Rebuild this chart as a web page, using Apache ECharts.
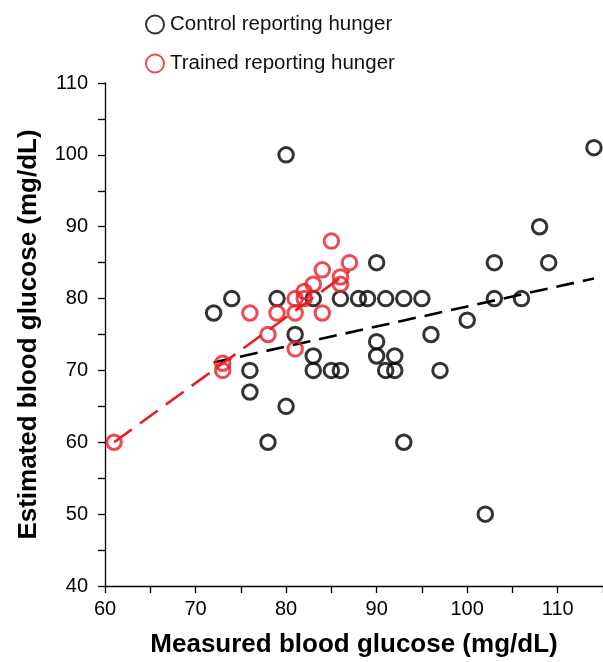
<!DOCTYPE html>
<html>
<head>
<meta charset="utf-8">
<script src="https://cdn.jsdelivr.net/npm/echarts@6/dist/echarts.min.js"></script>
<style>
  html, body { margin: 0; padding: 0; background: #fff; }
  #chart { width: 603px; height: 662px; }
</style>
</head>
<body>
<div id="chart"></div>
<script>
// control group: [measured, estimated]
var controlPoints = [
  [80, 100], [114, 101], [108, 90], [90, 85], [103, 85], [109, 85],
  [74, 80], [79, 80], [83, 80], [86, 80], [88, 80], [89, 80], [91, 80],
  [93, 80], [95, 80], [103, 80], [106, 80],
  [72, 78], [100, 77], [81, 75], [96, 75], [90, 74],
  [83, 72], [90, 72], [92, 72],
  [76, 70], [83, 70], [85, 70], [86, 70], [91, 70], [92, 70], [97, 70],
  [76, 67], [80, 65], [78, 60], [93, 60], [102, 50]
];
// trained group
var trainedPoints = [
  [61, 60], [73, 71], [73, 70], [76, 78], [78, 75], [79, 78],
  [81, 78], [81, 80], [81, 73], [82, 80], [82, 81], [83, 82],
  [84, 84], [84, 78], [85, 88], [86, 83], [86, 82], [87, 85]
];
// fitted lines (end points)
var controlFit = [[72, 71.1], [114, 82.8]];
var trainedFit = [[61, 60], [87, 83.8]];

var xTicks = { min: 60, max: 115, step: 10 };
var yTicks = { min: 40, max: 110, step: 10 };

var RED = '#e91d25';
var font = 'Liberation Sans, Arial, sans-serif';

var chart = echarts.init(document.getElementById('chart'));

function axisCommon() {
  return {
    axisLine: { show: true, onZero: false, lineStyle: { color: '#000', width: 1.3 } },
    axisTick: { show: true, length: 7, inside: false, lineStyle: { color: '#000', width: 1.3 } },
    minorTick: { show: true, splitNumber: 2, length: 7, lineStyle: { color: '#000', width: 1.3 } },
    splitLine: { show: false },
    axisLabel: { color: '#000', fontSize: 20, fontFamily: font },
    nameLocation: 'middle',
    nameTextStyle: { color: '#000', fontSize: 26, fontWeight: 'bold', fontFamily: font }
  };
}

var xAxis = axisCommon();
xAxis.type = 'value';
xAxis.min = xTicks.min;
xAxis.max = xTicks.max;
xAxis.interval = xTicks.step;
xAxis.name = 'Measured blood glucose (mg/dL)';
xAxis.nameGap = 46;
xAxis.axisLabel.margin = 13;
xAxis.axisLabel.formatter = function (v) { return v > 110 ? '' : v; };

var yAxis = axisCommon();
yAxis.type = 'value';
yAxis.min = yTicks.min;
yAxis.max = yTicks.max;
yAxis.interval = yTicks.step;
yAxis.name = 'Estimated blood glucose (mg/dL)';
yAxis.nameGap = 63;
yAxis.axisLabel.margin = 17;

var option = {
  backgroundColor: '#fff',
  animation: false,
  grid: { left: 105, right: 0, top: 83, bottom: 76, containLabel: false, outerBoundsMode: 'none' },
  legend: {
    orient: 'vertical',
    left: 140,
    top: 9,
    itemWidth: 20,
    itemHeight: 18,
    itemGap: 18,
    icon: 'circle',
    textStyle: { color: '#111', fontSize: 20.5, fontFamily: font },
    data: ['Control reporting hunger', 'Trained reporting hunger']
  },
  xAxis: xAxis,
  yAxis: yAxis,
  series: [
    {
      name: 'Control fit',
      type: 'line',
      data: controlFit,
      symbol: 'none',
      lineStyle: { color: '#000', width: 2.6, type: [18, 9] },
      z: 3
    },
    {
      name: 'Control reporting hunger',
      type: 'scatter',
      data: controlPoints,
      symbol: 'circle',
      symbolSize: 14.5,
      itemStyle: { color: 'rgba(255,255,255,0)', borderColor: '#000', borderWidth: 3 },
      z: 2
    },
    {
      name: 'Trained fit',
      type: 'line',
      data: trainedFit,
      symbol: 'none',
      lineStyle: { color: RED, width: 2.6, type: [22, 10] },
      z: 4
    },
    {
      name: 'Trained reporting hunger',
      type: 'scatter',
      data: trainedPoints,
      symbol: 'circle',
      symbolSize: 14.5,
      itemStyle: { color: 'rgba(255,255,255,0)', borderColor: RED, borderWidth: 3 },
      z: 5
    }
  ]
};

chart.setOption(option);
</script>
</body>
</html>
